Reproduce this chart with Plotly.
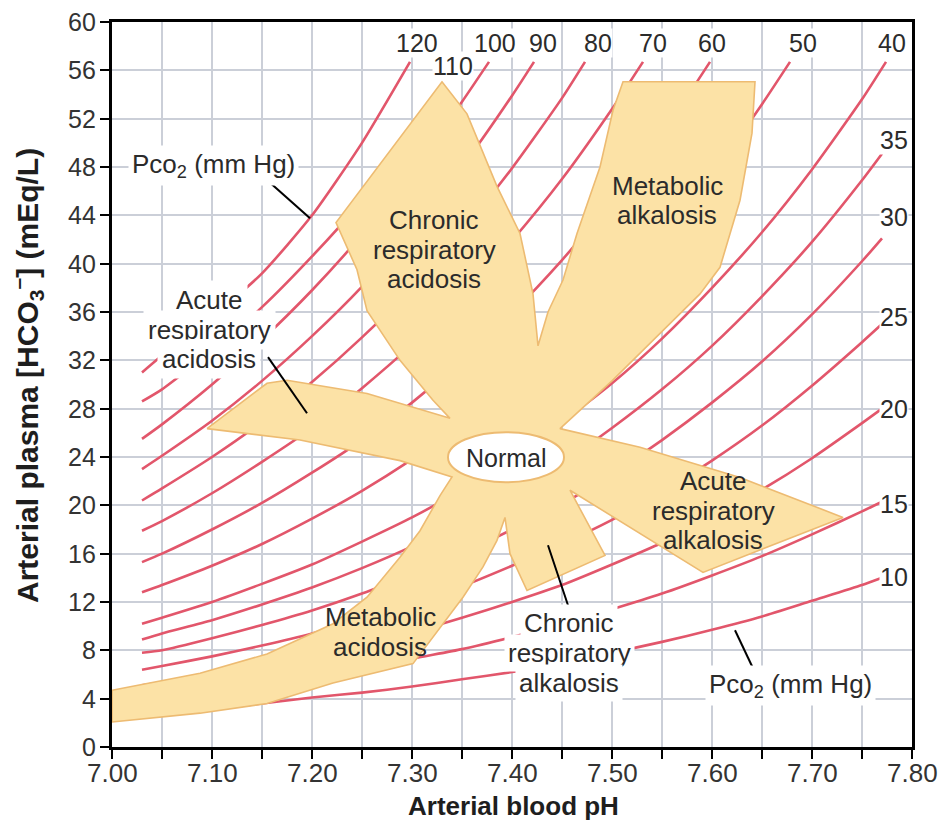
import plotly.graph_objects as go

# ---------------- data ----------------
PH_GRID = [7.03, 7.05, 7.10, 7.15, 7.20, 7.25, 7.30, 7.35, 7.40, 7.45,
           7.50, 7.55, 7.60, 7.65, 7.70, 7.75]

PCO2_LINES = [10, 15, 20, 25, 30, 35, 40, 50, 60, 70, 80, 90, 100, 110, 120]

# HCO3- (mEq/L) read along each isobar at PH_GRID points (until line ends)
HCO3_P10 = [2.6, 2.7, 3.1, 3.6, 4.1, 4.5, 5.0, 5.6, 6.2, 6.9, 7.8, 8.7, 9.7, 10.8, 12.1, 13.4]
HCO3_P15 = [3.8, 4.0, 4.5, 5.1, 5.7, 6.4, 7.3, 8.1, 9.1, 10.2, 11.4, 12.7, 14.2, 15.8, 17.6, 19.5]
HCO3_P20 = [5.1, 5.35, 6.0, 6.75, 7.6, 8.5, 9.5, 10.7, 12.0, 13.4, 15.1, 16.9, 19.0, 21.3, 23.9, 26.8]
HCO3_P25 = [6.4, 6.7, 7.5, 8.4, 9.4, 10.6, 11.9, 13.3, 15.0, 16.8, 18.8, 21.1, 23.7, 26.6, 29.9, 33.5]
HCO3_P30 = [7.8, 8.0, 9.0, 10.1, 11.3, 12.7, 14.3, 16.0, 18.0, 20.1, 22.6, 25.4, 28.5, 31.9, 35.8, 40.2]
HCO3_P35 = [8.9, 9.4, 10.5, 11.8, 13.2, 14.8, 16.6, 18.7, 21.0, 23.5, 26.4, 29.6, 33.2, 37.3, 41.8, 46.9]
HCO3_P40 = [10.2, 10.7, 12.0, 13.5, 15.1, 17.0, 19.0, 21.3, 23.9, 26.9, 30.1, 33.8, 38.0, 42.6, 47.8, 53.6]
HCO3_P50 = [12.8, 13.4, 15.0, 16.8, 18.9, 21.2, 23.8, 26.7, 29.9, 33.6, 37.7, 42.3, 47.4, 53.2]
HCO3_P60 = [15.3, 16.0, 18.0, 20.2, 22.7, 25.4, 28.5, 32.0, 35.9, 40.3, 45.2, 50.7]
HCO3_P70 = [17.9, 18.7, 21.0, 23.6, 26.4, 29.7, 33.3, 37.3, 41.9, 47.0, 52.8]
HCO3_P80 = [20.4, 21.4, 24.0, 26.9, 30.2, 33.9, 38.0, 42.7, 47.9, 53.7]
HCO3_P90 = [23.0, 24.1, 27.0, 30.3, 34.0, 38.1, 42.8, 48.0, 53.9]
HCO3_P100 = [25.5, 26.7, 30.0, 33.7, 37.8, 42.4, 47.6, 53.4]
HCO3_P110 = [28.6, 29.6, 32.8, 36.4, 40.6, 45.2, 50.4]
HCO3_P120 = [31.0, 32.4, 35.6, 39.2, 44.0, 50.0]

# last point of each isobar (pH, HCO3-)
END_PH = [7.77, 7.77, 7.77, 7.77, 7.77, 7.77, 7.774, 7.678, 7.598, 7.531, 7.473, 7.422, 7.377, 7.330, 7.298]
END_HCO3 = [14.0, 20.3, 28.0, 35.0, 42.1, 49.1, 56.7, 56.7, 56.7, 56.7, 56.7, 56.7, 56.7, 54.0, 56.7]

ISOBARS = [HCO3_P10, HCO3_P15, HCO3_P20, HCO3_P25, HCO3_P30, HCO3_P35, HCO3_P40,
           HCO3_P50, HCO3_P60, HCO3_P70, HCO3_P80, HCO3_P90, HCO3_P100, HCO3_P110, HCO3_P120]

# outline of the acid-base zones (pH, HCO3-)
ZONE_PH = [7.095, 7.155, 7.175, 7.255, 7.338,
           7.321, 7.288, 7.255, 7.245, 7.224, 7.330,
           7.355, 7.385, 7.408, 7.421, 7.426,
           7.436, 7.451, 7.465, 7.488, 7.501, 7.511, 7.643,
           7.640, 7.628, 7.608, 7.588, 7.548, 7.500, 7.448,
           7.528, 7.628, 7.731, 7.591, 7.458,
           7.493, 7.415, 7.398, 7.393,
           7.385, 7.371, 7.351, 7.318, 7.301,
           7.221, 7.155, 7.088, 7.000, 7.000,
           7.088, 7.155, 7.221, 7.255, 7.288, 7.308, 7.328, 7.340,
           7.288, 7.188, 7.095]
ZONE_HCO3 = [26.35, 30.1, 30.35, 29.25, 27.2,
             28.7, 32.0, 36.1, 39.5, 43.4, 55.05,
             52.4, 46.4, 42.5, 37.5, 33.2,
             36.0, 38.65, 42.5, 48.0, 52.7, 55.05, 55.05,
             50.8, 45.25, 39.7, 37.5, 34.2, 30.3, 26.35,
             24.8, 22.3, 19.0, 14.45, 21.25,
             15.85, 12.95, 16.0, 19.0,
             17.1, 14.9, 12.4, 8.8, 6.9,
             5.3, 3.6, 2.8, 2.07, 4.7,
             6.1, 7.7, 10.2, 12.4, 15.7, 17.9, 20.8, 22.35,
             23.7, 25.4, 26.35]

X_TICKS = [7.00, 7.05, 7.10, 7.15, 7.20, 7.25, 7.30, 7.35, 7.40, 7.45,
           7.50, 7.55, 7.60, 7.65, 7.70, 7.75, 7.80]
X_LABEL_VALS = [7.00, 7.10, 7.20, 7.30, 7.40, 7.50, 7.60, 7.70, 7.80]
X_LABEL_TEXT = ["7.00", "7.10", "7.20", "7.30", "7.40", "7.50", "7.60", "7.70", "7.80"]
Y_TICKS = [0, 4, 8, 12, 16, 20, 24, 28, 32, 36, 40, 44, 48, 52, 56, 60]

TOP_LABELS = ["120", "110", "100", "90", "80", "70", "60", "50", "40"]
TOP_LABEL_PH = [7.305, 7.341, 7.383, 7.431, 7.486, 7.541, 7.600, 7.691, 7.780]
TOP_LABEL_HCO3 = [58.3, 56.4, 58.3, 58.3, 58.3, 58.3, 58.3, 58.3, 58.3]
RIGHT_LABELS = ["35", "30", "25", "20", "15", "10"]
RIGHT_LABEL_HCO3 = [50.2, 43.85, 35.55, 28.0, 20.15, 14.05]

# ---------------- figure ----------------
FONT = "Liberation Sans, Arial, Helvetica, sans-serif"
RED = "#E2566B"
FILL = "#FCE2A6"
EDGE = "#EDBB72"
TXT = "#2B2B2B"
TICKTXT = "#333333"

fig = go.Figure()

for p, ys, ex, ey in zip(PCO2_LINES, ISOBARS, END_PH, END_HCO3):
    xs = PH_GRID[:len(ys)] + [ex]
    fig.add_trace(go.Scatter(x=xs, y=list(ys) + [ey], mode="lines",
                             line=dict(color=RED, width=2.6, shape="spline", smoothing=0.6),
                             hoverinfo="skip", showlegend=False, name=f"{p}"))

fig.add_trace(go.Scatter(x=ZONE_PH, y=ZONE_HCO3, mode="lines", fill="toself",
                         fillcolor=FILL, line=dict(color=EDGE, width=1.6),
                         hoverinfo="skip", showlegend=False))

# pixel -> data helpers for placing text/annotation furniture
def px2ph(px):
    return 7.0 + (px - 112.0) / 1000.0

def py2h(py):
    return (746.7 - py) / 12.08

def seg(px0, py0, px1, py1):
    return dict(type="line", xref="x", yref="y", x0=px2ph(px0), y0=py2h(py0),
                x1=px2ph(px1), y1=py2h(py1), line=dict(color="black", width=2), layer="above")

shapes = [
    dict(type="circle", xref="x", yref="y", x0=px2ph(448), x1=px2ph(564),
         y0=py2h(482), y1=py2h(432),
         fillcolor="white", line=dict(color=EDGE, width=2), layer="above"),
    seg(268, 357, 307, 413),      # acute respiratory acidosis pointer
    seg(548, 545, 568, 605),      # chronic respiratory alkalosis pointer
    seg(265, 178, 310, 218),      # Pco2 pointer (top)
    seg(735, 630, 753, 668),      # Pco2 pointer (bottom)
]

ann = []

def label(px, py, text, size=26, bg=None, pad=2):
    d = dict(x=px2ph(px), y=py2h(py), xref="x", yref="y", text=text, showarrow=False,
             font=dict(family=FONT, size=size, color=TXT), xanchor="center", yanchor="middle")
    if bg:
        d["bgcolor"] = bg
        d["borderpad"] = pad
    ann.append(d)

def block(px, pys, lines, size=26, bg=None, pad=3):
    for py, t in zip(pys, lines):
        label(px, py, t, size=size, bg=bg, pad=pad)

block(434, [220, 250, 279], ["Chronic", "respiratory", "acidosis"])
block(667, [186, 215], ["Metabolic", "alkalosis"])
block(209, [300, 330, 359], ["Acute", "respiratory", "acidosis"], bg="white", pad=4)
label(506, 458, "Normal", size=25)
block(713, [481, 511, 540], ["Acute", "respiratory", "alkalosis"])
block(380, [617, 647], ["Metabolic", "acidosis"])
block(569, [623, 653, 683], ["Chronic", "respiratory", "alkalosis"], bg="white", pad=3)
label(213, 165, "Pco<sub>2</sub> (mm Hg)", bg="white", pad=3)
label(790, 685, "Pco<sub>2</sub> (mm Hg)", bg="white", pad=3)

for t, x, y in zip(TOP_LABELS, TOP_LABEL_PH, TOP_LABEL_HCO3):
    ann.append(dict(x=x, y=y, xref="x", yref="y", text=t, showarrow=False,
                    font=dict(family=FONT, size=25, color=TXT), bgcolor="white", borderpad=0))
for t, y in zip(RIGHT_LABELS, RIGHT_LABEL_HCO3):
    ann.append(dict(x=7.782, y=y, xref="x", yref="y", text=t, showarrow=False,
                    font=dict(family=FONT, size=25, color=TXT), bgcolor="white", borderpad=0))

# tick labels (placed just outside the axes)
for v, t in zip(X_LABEL_VALS, X_LABEL_TEXT):
    ann.append(dict(x=v, y=-0.036, xref="x", yref="paper", text=t, showarrow=False,
                    xanchor="center", yanchor="middle",
                    font=dict(family=FONT, size=26, color=TICKTXT)))
for v in Y_TICKS:
    ann.append(dict(x=-0.018, y=v, xref="paper", yref="y", text=str(v), showarrow=False,
                    xanchor="right", yanchor="middle",
                    font=dict(family=FONT, size=25, color=TICKTXT)))

# axis titles
ann.append(dict(x=0.502, y=-0.081, xref="paper", yref="paper", showarrow=False,
                xanchor="center", yanchor="middle",
                text="<b>Arterial blood pH</b>",
                font=dict(family=FONT, size=26, color="#1E1E1E")))
ann.append(dict(x=-0.106, y=0.512, xref="paper", yref="paper", showarrow=False,
                xanchor="center", yanchor="middle", textangle=-90,
                text="<b>Arterial plasma [HCO<sub>3</sub><sup>\u2013</sup>] (mEq/L)</b>",
                font=dict(family=FONT, size=30, color="#1E1E1E")))

fig.update_layout(
    width=941, height=824,
    margin=dict(l=112, r=29, t=22, b=77, autoexpand=False),
    paper_bgcolor="white", plot_bgcolor="white",
    shapes=shapes, annotations=ann,
    xaxis=dict(range=[7.0, 7.8], tickvals=X_TICKS, showticklabels=False,
               showgrid=True, gridcolor="#CBCFD8", gridwidth=2, automargin=False,
               showline=True, linecolor="black", linewidth=3, mirror=True,
               ticks="outside", ticklen=9, tickwidth=2, tickcolor="black", zeroline=False),
    yaxis=dict(range=[0, 60], tickvals=Y_TICKS, showticklabels=False,
               showgrid=True, gridcolor="#CBCFD8", gridwidth=2, automargin=False,
               showline=True, linecolor="black", linewidth=3, mirror=True,
               ticks="outside", ticklen=9, tickwidth=2, tickcolor="black", zeroline=False),
)

fig.write_html("out.html", config={"displayModeBar": False},
               post_script="document.body.style.margin='0';document.body.style.overflow='hidden';")
